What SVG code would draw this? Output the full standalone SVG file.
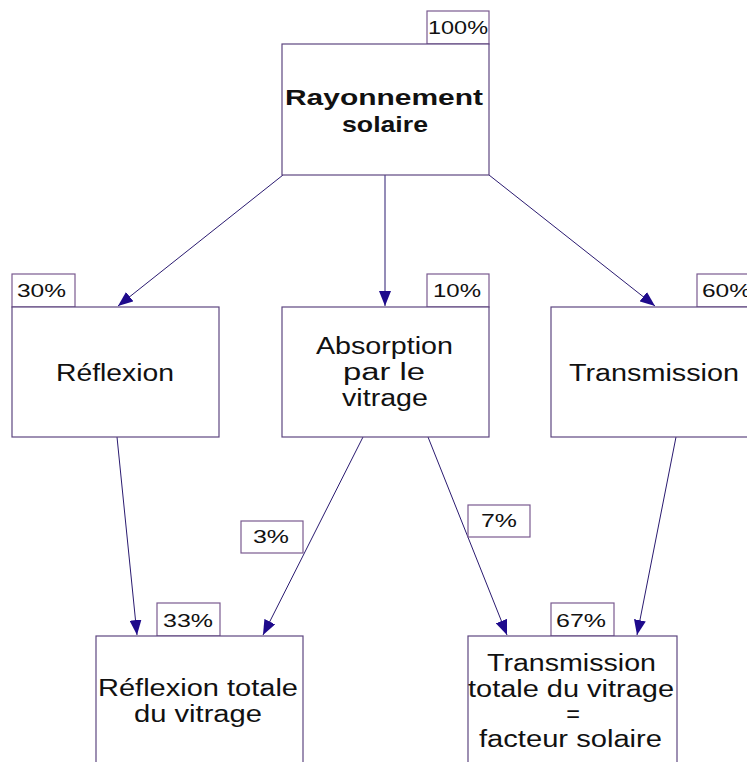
<svg xmlns="http://www.w3.org/2000/svg" width="747" height="762" viewBox="0 0 747 762">
<defs>
<style>
.box{fill:#fff;stroke:#5e4680;stroke-width:1.2}
.tag{fill:#fff;stroke:#7a5a90;stroke-width:1.2}
.t{font-family:"Liberation Sans",Arial,sans-serif;font-size:23.5px;fill:#111;text-anchor:start}
.b{font-weight:bold;font-size:22px}
.p{font-family:"Liberation Sans",Arial,sans-serif;font-size:18px;fill:#111}
.c{stroke:#2a1a70;stroke-width:1;fill:none;marker-end:url(#ah)}
</style>
<marker id="ah" markerWidth="16" markerHeight="12" refX="15" refY="6" orient="auto" markerUnits="userSpaceOnUse">
<path d="M0,0 L15,6 L0,12 z" fill="#1e0a8c"/>
</marker>
</defs>
<rect width="747" height="762" fill="#fff"/>
<g id="connectors">
<line class="c" x1="283" y1="175" x2="118" y2="306"/>
<line class="c" x1="385" y1="175" x2="385" y2="306"/>
<line class="c" x1="489" y1="175" x2="655" y2="306"/>
<line class="c" x1="117" y1="437" x2="137" y2="635"/>
<line class="c" x1="363" y1="437" x2="263" y2="635"/>
<line class="c" x1="428" y1="437" x2="507" y2="635"/>
<line class="c" x1="676" y1="437" x2="637" y2="635"/>
</g>
<g id="n-rayonnement">
<rect class="tag" x="427" y="11" width="62" height="33"/>
<text class="p" x="428" y="34" textLength="60" lengthAdjust="spacingAndGlyphs">100%</text>
<rect class="box" x="282" y="44" width="207" height="131"/>
<text class="t b" x="285" y="105" textLength="198" lengthAdjust="spacingAndGlyphs">Rayonnement</text>
<text class="t b" x="342" y="132" textLength="86" lengthAdjust="spacingAndGlyphs">solaire</text>
</g>
<g id="n-reflexion">
<rect class="tag" x="12" y="274" width="63" height="33"/>
<text class="p" x="17" y="297" textLength="49" lengthAdjust="spacingAndGlyphs">30%</text>
<rect class="box" x="12" y="307" width="207" height="130"/>
<text class="t" x="56" y="381" textLength="118" lengthAdjust="spacingAndGlyphs">Réflexion</text>
</g>
<g id="n-absorption">
<rect class="tag" x="427" y="274" width="62" height="33"/>
<text class="p" x="433" y="297" textLength="48" lengthAdjust="spacingAndGlyphs">10%</text>
<rect class="box" x="282" y="307" width="207" height="130"/>
<text class="t" x="316" y="354" textLength="137" lengthAdjust="spacingAndGlyphs">Absorption</text>
<text class="t" x="343" y="380" textLength="82" lengthAdjust="spacingAndGlyphs">par le</text>
<text class="t" x="342" y="406" textLength="86" lengthAdjust="spacingAndGlyphs">vitrage</text>
</g>
<g id="n-transmission">
<rect class="tag" x="697" y="274" width="62" height="33"/>
<text class="p" x="702" y="297" textLength="49" lengthAdjust="spacingAndGlyphs">60%</text>
<rect class="box" x="551" y="307" width="207" height="130"/>
<text class="t" x="569" y="381" textLength="170" lengthAdjust="spacingAndGlyphs">Transmission</text>
</g>
<g id="tag-3">
<rect class="tag" x="241" y="521" width="62" height="32"/>
<text class="p" x="253" y="543" textLength="36" lengthAdjust="spacingAndGlyphs">3%</text>
</g>
<g id="tag-7">
<rect class="tag" x="468" y="505" width="62" height="32"/>
<text class="p" x="481" y="527" textLength="36" lengthAdjust="spacingAndGlyphs">7%</text>
</g>
<g id="n-reflexion-totale">
<rect class="tag" x="157" y="603" width="63" height="33"/>
<text class="p" x="163" y="627" textLength="50" lengthAdjust="spacingAndGlyphs">33%</text>
<rect class="box" x="96" y="636" width="207" height="140"/>
<text class="t" x="98" y="696" textLength="200" lengthAdjust="spacingAndGlyphs">Réflexion totale</text>
<text class="t" x="134" y="722" textLength="128" lengthAdjust="spacingAndGlyphs">du vitrage</text>
</g>
<g id="n-transmission-totale">
<rect class="tag" x="551" y="603" width="63" height="33"/>
<text class="p" x="556" y="627" textLength="50" lengthAdjust="spacingAndGlyphs">67%</text>
<rect class="box" x="468" y="636" width="209" height="140"/>
<text class="t" x="487" y="671" textLength="169" lengthAdjust="spacingAndGlyphs">Transmission</text>
<text class="t" x="468" y="697" textLength="206" lengthAdjust="spacingAndGlyphs">totale du vitrage</text>
<text class="t" x="573" y="722" style="text-anchor:middle">=</text>
<text class="t" x="479" y="747" textLength="183" lengthAdjust="spacingAndGlyphs">facteur solaire</text>
</g>
</svg>
